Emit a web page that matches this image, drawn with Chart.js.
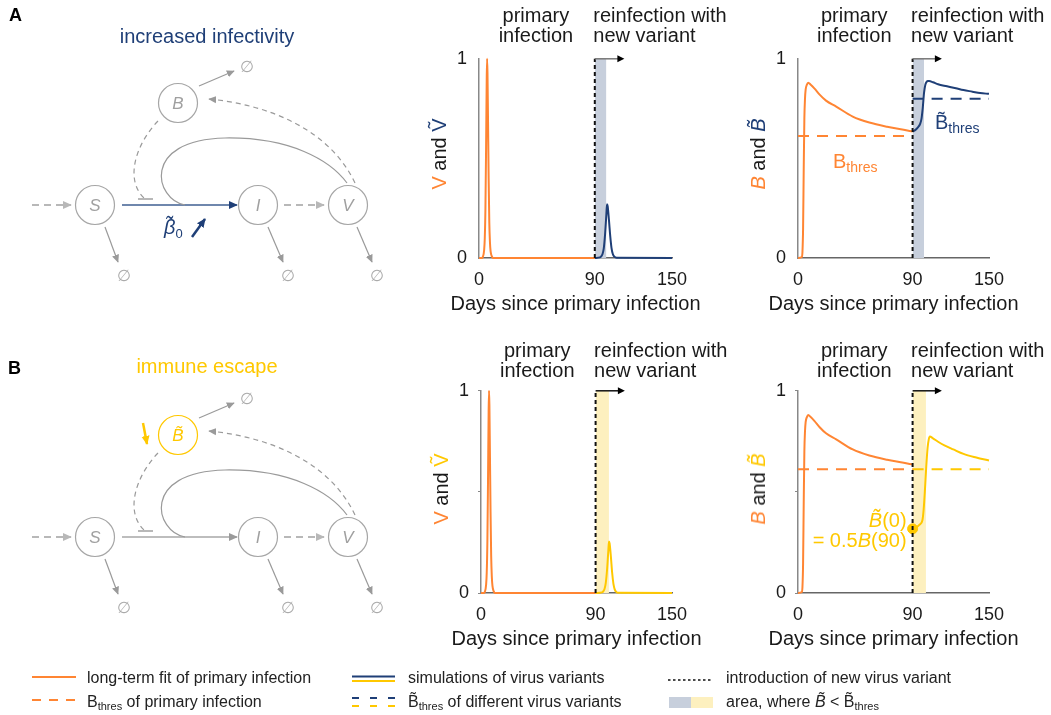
<!DOCTYPE html>
<html>
<head>
<meta charset="utf-8">
<script src="https://cdn.jsdelivr.net/npm/chart.js@4.4.1/dist/chart.umd.min.js"></script>
<style>
  html, body { margin: 0; padding: 0; background: #fff; }
  body { position: relative; width: 1051px; height: 715px; overflow: hidden;
         font-family: "Liberation Sans", Arial, Helvetica, sans-serif; color: #1a1a1a; }
  canvas, svg, .txt { position: absolute; }
  .txt { white-space: nowrap; font-size: 20px; line-height: 20px; }
  .center { transform: translateX(-50%); text-align: center; }
  .right { transform: translateX(-100%); text-align: right; }
  .ytitle { transform: translate(-50%, -50%) rotate(-90deg); font-size: 20px; line-height: 22px; }
  .sub { font-size: 14px; position: relative; top: 4px; }
  .leg { font-size: 16px; line-height: 16px; color: #222; }
  .leg .sub { font-size: 11px; top: 3px; }
</style>
</head>
<body>
<script>
const FONT = '"Liberation Sans", Arial, Helvetica, sans-serif';
const ORANGE = '#ff8533';
const NAVY = '#1f3f77';
const YELLOW = '#ffc800';
const SHADE_BLUE = '#c7cfdc';
const SHADE_YELLOW = '#fdf0bf';

// axis ticks
const dayTicks = [0, 90, 150];
const dayTickLabels = ['0', '90', '150'];
const yTicksA = [0, 1];
const yTickLabelsA = ['0', '1'];
const yTicksB = [0, 0.5, 1];
const yTickLabelsB = ['0', '', '1'];
const xAxisTitle = 'Days since primary infection';

// day the new variant is introduced, and end of the "reinfection" arrow
const introDay = 90;
const arrowEndDay = 113;

// viral load V of the primary infection (normalised)
const vPrimaryDays = [0, 2, 3, 4, 4.5, 5, 5.5, 6, 6.3, 6.6, 7, 7.5, 8, 8.5, 9, 10, 11, 90];
const vPrimary     = [0, 0, 0.005, 0.04, 0.1, 0.25, 0.55, 0.9, 1.0, 0.93, 0.7, 0.4, 0.18, 0.08, 0.035, 0.008, 0, 0];

// viral load of the variant with increased infectivity
const vInfectDays = [90, 94, 95, 96, 97, 98, 99, 99.5, 100, 101, 102, 103, 104, 105, 107, 150];
const vInfect     = [0, 0.003, 0.008, 0.02, 0.05, 0.12, 0.22, 0.27, 0.26, 0.19, 0.11, 0.05, 0.02, 0.008, 0.001, 0];

// viral load of the immune-escape variant
const vEscapeDays = [90, 95, 96, 97, 98, 99, 100, 100.5, 101, 102, 103, 104, 105, 106, 108, 150];
const vEscape     = [0, 0.003, 0.008, 0.02, 0.05, 0.115, 0.21, 0.255, 0.245, 0.18, 0.1, 0.045, 0.018, 0.007, 0.001, 0];

// antibody level B after the primary infection
const bPrimaryDays = [0, 3, 3.5, 4, 4.5, 5, 5.5, 6, 7, 8, 10, 13, 17, 22, 30, 43, 56, 70, 83, 90];
const bPrimary     = [0, 0.005, 0.03, 0.15, 0.45, 0.7, 0.8, 0.845, 0.87, 0.88, 0.87, 0.85, 0.82, 0.79, 0.76, 0.71, 0.68, 0.659, 0.644, 0.635];

// antibody level against the more infective variant
const bInfectDays = [90, 92, 94, 96, 97, 98, 99, 100, 101, 102, 103, 106, 110, 117, 124, 130, 137, 143, 150];
const bInfect     = [0.635, 0.642, 0.655, 0.675, 0.70, 0.755, 0.83, 0.87, 0.884, 0.888, 0.888, 0.882, 0.872, 0.862, 0.852, 0.843, 0.835, 0.828, 0.824];

// antibody level against the escape variant; it starts at half of B(90)
const bEscapeStart = 0.5 * bPrimary[bPrimary.length - 1];
const bEscapeDays = [90, 93, 95.5, 97.7, 98.7, 99.7, 100.7, 101.8, 102.7, 103.5, 106, 110, 115, 122, 130, 140, 150];
const bEscape     = [bEscapeStart, 0.325, 0.338, 0.36, 0.415, 0.511, 0.623, 0.72, 0.76, 0.774, 0.765, 0.748, 0.73, 0.71, 0.688, 0.67, 0.655];

// protection thresholds
const bThresPrimary = 0.612;
const bThresInfect = 0.80;
const bThresEscape = 0.612;

// periods where the variant antibody level is below its threshold
const shadeInfect = [90, 99];
const shadeEscape = [90, 100.5];

const pts = (xs, ys) => xs.map((x, i) => ({ x, y: ys[i] }));

function curve(xs, ys, color, extra) {
  return Object.assign({
    data: pts(xs, ys), borderColor: color, borderWidth: 2, pointRadius: 0,
    cubicInterpolationMode: 'monotone', fill: false, clip: 4, order: 2
  }, extra || {});
}
function level(from, to, y, color) {
  return { data: pts([from, to], [y, y]), borderColor: color, borderWidth: 2, borderDash: [11, 8],
           pointRadius: 0, fill: false, order: 3, clip: 4 };
}
function shade(range, color) {
  return { data: pts(range, [1, 1]), borderWidth: 0, pointRadius: 0, fill: 'origin',
           backgroundColor: color, borderColor: 'rgba(0,0,0,0)', order: 10 };
}
function intro() {
  return { data: pts([introDay, introDay], [0, 1]), borderColor: '#111', borderWidth: 2, borderDash: [4, 3],
           pointRadius: 0, fill: false, order: 0, clip: 4 };
}

const arrowPlugin = {
  id: 'variantArrow',
  afterDatasetsDraw(chart, args, opts) {
    const { ctx, scales: { x, y } } = chart;
    const x0 = x.getPixelForValue(opts.from), x1 = x.getPixelForValue(opts.to), yy = y.getPixelForValue(opts.level);
    ctx.save();
    ctx.strokeStyle = opts.color; ctx.lineWidth = 1.5;
    ctx.beginPath(); ctx.moveTo(x0, yy); ctx.lineTo(x1 - 5, yy); ctx.stroke();
    ctx.fillStyle = '#000';
    ctx.beginPath(); ctx.moveTo(x1, yy); ctx.lineTo(x1 - 7, yy - 3.5); ctx.lineTo(x1 - 7, yy + 3.5); ctx.closePath(); ctx.fill();
    ctx.restore();
  }
};

const PAD_LEFT = 50, PAD_TOP = 14, PAD_RIGHT = 20, X_AXIS_H = 60;

function text(html, x, y, cls, color) {
  const d = document.createElement('div');
  d.className = 'txt ' + (cls || '');
  d.innerHTML = html;
  d.style.left = x + 'px'; d.style.top = y + 'px';
  if (color) d.style.color = color;
  document.body.appendChild(d);
  return d;
}

function panel(box, datasets, yTicks, yLabels, arrowColor) {
  const cv = document.createElement('canvas');
  cv.width = box.right - box.left + PAD_LEFT + PAD_RIGHT;
  cv.height = box.bottom - box.top + PAD_TOP + X_AXIS_H;
  const cl = box.left - PAD_LEFT, ct = box.top - PAD_TOP;
  cv.style.left = cl + 'px'; cv.style.top = ct + 'px';
  document.body.appendChild(cv);
  const withMid = yTicks.length > 2;
  const chart = new Chart(cv, {
    type: 'line',
    data: { datasets },
    plugins: [arrowPlugin],
    options: {
      responsive: false, animation: false, events: [],
      layout: { padding: { top: PAD_TOP, right: PAD_RIGHT, left: 0, bottom: 0 } },
      plugins: {
        legend: { display: false }, tooltip: { enabled: false },
        variantArrow: { from: introDay, to: arrowEndDay, level: 1, color: arrowColor }
      },
      scales: {
        x: {
          type: 'linear', min: 0, max: 150,
          afterBuildTicks: s => { s.ticks = dayTicks.map(v => ({ value: v })); },
          afterFit: s => { s.height = X_AXIS_H; },
          grid: { display: false },
          border: { display: true, color: '#666', width: 1.5 },
          ticks: { padding: 3, color: '#1a1a1a', font: { size: 18, family: FONT }, maxRotation: 0, autoSkip: false,
                   callback: (v, i) => dayTickLabels[i] }
        },
        y: {
          type: 'linear', min: 0, max: 1,
          afterBuildTicks: s => { s.ticks = yTicks.map(v => ({ value: v })); },
          afterFit: s => { s.width = PAD_LEFT; },
          grid: { display: true, drawOnChartArea: false, drawTicks: withMid, tickLength: 3, tickColor: '#888', color: '#888' },
          border: { display: true, color: '#888', width: 1.5 },
          ticks: { padding: withMid ? 9 : 12, color: '#1a1a1a', font: { size: 18, family: FONT },
                   callback: (v, i) => yLabels[i] }
        }
      }
    }
  });
  const p = {
    box,
    px: v => cl + chart.scales.x.getPixelForValue(v),
    py: v => ct + chart.scales.y.getPixelForValue(v)
  };
  // axis title below the tick labels, centred on the plot area
  text(xAxisTitle, (p.px(0) + p.px(150)) / 2, p.py(0) + 35, 'center');
  return p;
}

function headings(p, top) {
  text('primary<br>infection', p.px(45) - 1, top, 'center');
  text('reinfection with<br>new variant', p.px(introDay) - 1.5, top, '');
}
function yTitle(p, html) {
  text(html, p.box.left - 40, (p.box.top + p.box.bottom) / 2, 'ytitle');
}

// ---- row A: increased infectivity ----
const aV = panel({ left: 479, right: 672, top: 50, bottom: 258 }, [
  intro(),
  curve(vPrimaryDays, vPrimary, ORANGE),
  curve(vInfectDays, vInfect, NAVY),
  shade(shadeInfect, SHADE_BLUE)
], yTicksA, yTickLabelsA, '#777');
headings(aV, 5);
yTitle(aV, '<span style="color:' + ORANGE + '">V</span> and <span style="color:' + NAVY + '">V\u0303</span>');

const aB = panel({ left: 798, right: 989, top: 50, bottom: 258 }, [
  intro(),
  curve(bPrimaryDays, bPrimary, ORANGE),
  curve(bInfectDays, bInfect, NAVY),
  level(0, introDay, bThresPrimary, ORANGE),
  level(introDay, 150, bThresInfect, NAVY),
  shade(shadeInfect, SHADE_BLUE)
], yTicksA, yTickLabelsA, '#777');
headings(aB, 5);
yTitle(aB, '<i style="color:' + ORANGE + '">B</i> and <i style="color:' + NAVY + '">B\u0303</i>');
text('B<span class="sub">thres</span>', aB.px(27.5), aB.py(bThresPrimary) + 15, '', ORANGE);
text('B\u0303<span class="sub">thres</span>', aB.px(107.6), aB.py(bThresInfect) + 13, '', NAVY);

// ---- row B: immune escape ----
const bV = panel({ left: 481, right: 672, top: 385, bottom: 593 }, [
  intro(),
  curve(vPrimaryDays, vPrimary, ORANGE),
  curve(vEscapeDays, vEscape, YELLOW),
  shade(shadeEscape, SHADE_YELLOW)
], yTicksB, yTickLabelsB, '#111');
headings(bV, 340);
yTitle(bV, '<span style="color:' + ORANGE + '">V</span> and <span style="color:' + YELLOW + '">V\u0303</span>');

const bB = panel({ left: 798, right: 989, top: 385, bottom: 593 }, [
  intro(),
  { data: [{ x: introDay, y: bEscapeStart }], pointRadius: 5, pointBackgroundColor: YELLOW,
    pointBorderColor: YELLOW, showLine: false, order: 0, clip: 8 },
  curve(bPrimaryDays, bPrimary, ORANGE),
  curve(bEscapeDays, bEscape, YELLOW),
  level(0, introDay, bThresPrimary, ORANGE),
  level(introDay, 150, bThresEscape, YELLOW),
  shade(shadeEscape, SHADE_YELLOW)
], yTicksB, yTickLabelsB, '#111');
headings(bB, 340);
yTitle(bB, '<i style="color:' + ORANGE + '">B</i> and <i style="color:' + YELLOW + '">B\u0303</i>');
text('<i>B\u0303</i>(0)<br>= 0.5<i>B</i>(90)', bB.px(introDay) - 6, bB.py(bEscapeStart) - 19, 'right', YELLOW);

// ---- model schematics ----
function schematic(dy, escape) {
  const g = '#9a9a9a', lg = '#b8b8b8';
  const nodeB = escape ? YELLOW : '#a6a6a6';
  const nodeBText = escape ? YELLOW : '#a0a0a0';
  const si = escape ? '#bdbdbd' : '#6f87ad';
  const siHead = escape ? '#9a9a9a' : NAVY;
  const id = escape ? 'b' : 'a';
  const mk = (name, col, w) =>
    `<marker id="${name}${id}" viewBox="0 0 10 10" refX="9" refY="5" markerWidth="${w}" markerHeight="${w}" markerUnits="userSpaceOnUse" orient="auto"><path d="M0,0.5 L10,5 L0,9.5 z" fill="${col}"/></marker>`;
  const node = (x, y, label, stroke, col) =>
    `<circle cx="${x}" cy="${y}" r="19.5" fill="none" stroke="${stroke}" stroke-width="1.2"/>` +
    `<text x="${x}" y="${y + 6}" text-anchor="middle" font-style="italic" font-size="17" fill="${col}">${label}</text>`;
  const empty = (x, y) => `<text x="${x}" y="${y + 6}" text-anchor="middle" font-family="DejaVu Sans" font-size="16" fill="#aaa">\u2205</text>`;
  return `<svg style="left:0;top:${dy}px" width="420" height="320" font-family='${FONT}'>
  <defs>${mk('g', g, 8)}${mk('l', lg, 9)}${mk('n', siHead, 9)}${mk('t', NAVY, 9)}${mk('y', YELLOW, 9)}</defs>
  ${escape
    ? `<text x="207" y="41" text-anchor="middle" font-size="20" fill="${YELLOW}">immune escape</text>`
    : `<text x="207" y="43" text-anchor="middle" font-size="20" fill="${NAVY}">increased infectivity</text>`}
  <line x1="32" y1="205" x2="71" y2="205" stroke="${lg}" stroke-width="2" stroke-dasharray="7,5" marker-end="url(#l${id})"/>
  <line x1="122" y1="205" x2="237" y2="205" stroke="${si}" stroke-width="2" marker-end="url(#n${id})"/>
  <line x1="284" y1="205" x2="324" y2="205" stroke="${lg}" stroke-width="2" stroke-dasharray="7,5" marker-end="url(#l${id})"/>
  <path d="M185,205 C155,200 140,140 225,138 C290,137 330,160 347,183" fill="none" stroke="${g}" stroke-width="1.2"/>
  <path d="M355,183 C330,130 270,105 209,99" fill="none" stroke="${g}" stroke-width="1.2" stroke-dasharray="5,4" marker-end="url(#g${id})"/>
  <path d="M158,121 C135,145 125,180 144,198" fill="none" stroke="${g}" stroke-width="1.2" stroke-dasharray="5,4"/>
  <line x1="138" y1="199" x2="153" y2="199" stroke="${g}" stroke-width="1.4"/>
  <line x1="199" y1="86" x2="234" y2="71" stroke="${g}" stroke-width="1.2" marker-end="url(#g${id})"/>
  <line x1="105" y1="227" x2="118" y2="262" stroke="${g}" stroke-width="1.2" marker-end="url(#g${id})"/>
  <line x1="268" y1="227" x2="283" y2="262" stroke="${g}" stroke-width="1.2" marker-end="url(#g${id})"/>
  <line x1="357" y1="227" x2="372" y2="262" stroke="${g}" stroke-width="1.2" marker-end="url(#g${id})"/>
  ${node(95, 205, 'S', '#a6a6a6', '#a0a0a0')}
  ${node(258, 205, 'I', '#a6a6a6', '#a0a0a0')}
  ${node(348, 205, 'V', '#a6a6a6', '#a0a0a0')}
  ${node(178, 103, escape ? 'B\u0303' : 'B', nodeB, nodeBText)}
  ${empty(247, 66)}${empty(124, 275)}${empty(288, 275)}${empty(377, 275)}
  ${escape
    ? `<line x1="143" y1="91" x2="147" y2="112" stroke="${YELLOW}" stroke-width="2.5" marker-end="url(#y${id})"/>`
    : `<text x="164" y="234" font-size="20" font-style="italic" fill="${NAVY}">\u03b2\u0303<tspan font-size="13" font-style="normal" dy="4">0</tspan></text>
       <line x1="192" y1="237" x2="205" y2="219" stroke="${NAVY}" stroke-width="2.5" marker-end="url(#t${id})"/>`}
</svg>`;
}
document.body.insertAdjacentHTML('beforeend', schematic(0, false));
document.body.insertAdjacentHTML('beforeend', schematic(332, true));
text('<b>A</b>', 9, 5, '', '#000').style.fontSize = '18px';
text('<b>B</b>', 8, 358, '', '#000').style.fontSize = '18px';

// ---- legend ----
document.body.insertAdjacentHTML('beforeend', `<svg style="left:0;top:0" width="1051" height="715">
  <line x1="32" y1="677" x2="76" y2="677" stroke="${ORANGE}" stroke-width="2"/>
  <line x1="32" y1="700" x2="76" y2="700" stroke="${ORANGE}" stroke-width="2" stroke-dasharray="9,8"/>
  <line x1="352" y1="676.5" x2="395" y2="676.5" stroke="${NAVY}" stroke-width="2"/>
  <line x1="352" y1="681" x2="395" y2="681" stroke="${YELLOW}" stroke-width="2"/>
  <line x1="352" y1="698" x2="395" y2="698" stroke="${NAVY}" stroke-width="2" stroke-dasharray="7,11"/>
  <line x1="352" y1="706" x2="395" y2="706" stroke="${YELLOW}" stroke-width="2" stroke-dasharray="7,11"/>
  <line x1="668" y1="680" x2="713" y2="680" stroke="#111" stroke-width="1.3" stroke-dasharray="2.5,2.5"/>
  <rect x="669" y="697" width="22" height="11" fill="${SHADE_BLUE}"/>
  <rect x="691" y="697" width="22" height="11" fill="${SHADE_YELLOW}"/>
</svg>`);
text('long-term fit of primary infection', 87, 669.5, 'leg');
text('B<span class="sub">thres</span> of primary infection', 87, 693.5, 'leg');
text('simulations of virus variants', 408, 669.5, 'leg');
text('B\u0303<span class="sub">thres</span> of different virus variants', 408, 693.5, 'leg');
text('introduction of new virus variant', 726, 669.5, 'leg');
text('area, where <i>B\u0303</i> &lt; B\u0303<span class="sub">thres</span>', 726, 693.5, 'leg');
</script>
</body>
</html>
